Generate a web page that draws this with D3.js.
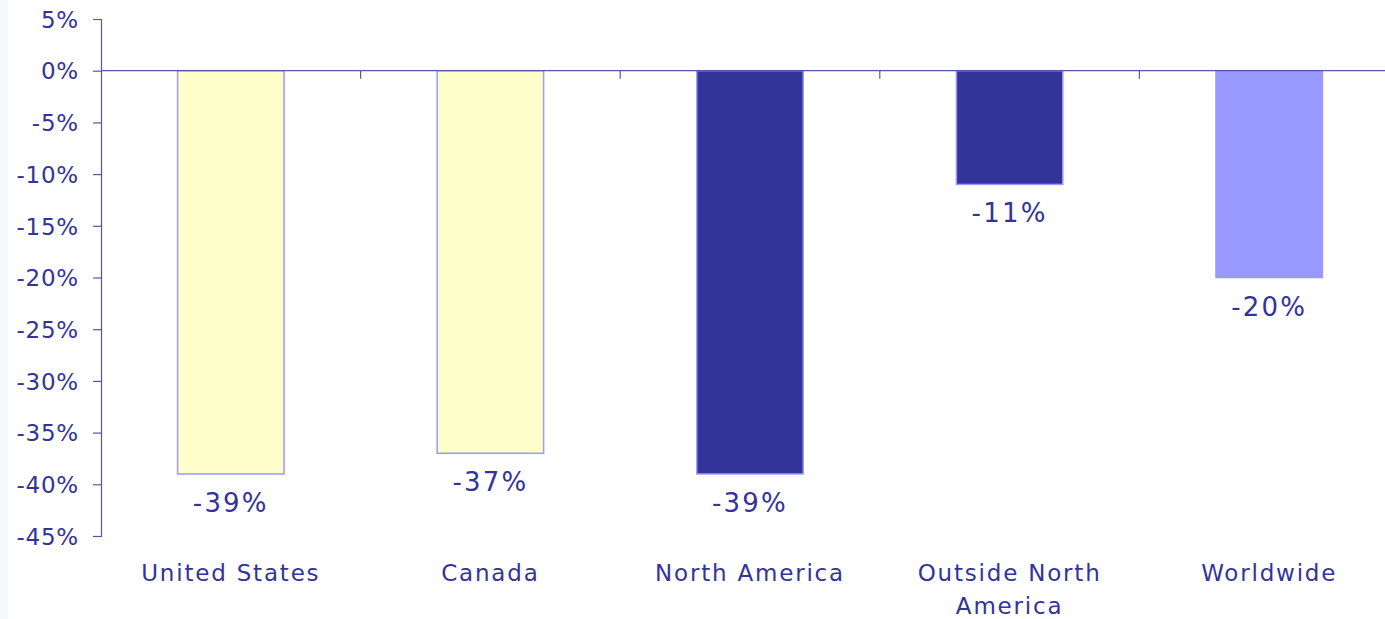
<!DOCTYPE html>
<html>
<head>
<meta charset="utf-8">
<script src="https://cdn.jsdelivr.net/npm/d3@7"></script>
<style>
  html, body { margin: 0; padding: 0; background: #ffffff; }
  svg { display: block; }
  text { font-family: "DejaVu Sans", Verdana, sans-serif; fill: #333399; }
</style>
</head>
<body>
<script>
// Percentage change by region
const categories = ["United States", "Canada", "North America", "Outside North America", "Worldwide"];
const labelLines = [["United States"], ["Canada"], ["North America"], ["Outside North", "America"], ["Worldwide"]];
const values = [-39, -37, -39, -11, -20];
const fills = ["#FFFFCC", "#FFFFCC", "#333399", "#333399", "#9999FF"];
const yTicks = [5, 0, -5, -10, -15, -20, -25, -30, -35, -40, -45];

const W = 1385, H = 619;
const margin = { left: 101, top: 19, right: -14, bottom: 83 };

const svg = d3.select("body").append("svg").attr("width", W).attr("height", H);

// faint strip along the left edge
svg.append("rect").attr("x", 0).attr("y", 0).attr("width", 8).attr("height", H).attr("fill", "#F7F9FF");

const x = d3.scaleBand()
  .domain(categories)
  .range([margin.left, W - margin.right])
  .paddingInner(0.59)
  .paddingOuter(0.295);

const y = d3.scaleLinear().domain([5, -45]).range([margin.top, H - margin.bottom]);

const axisColor = "#5555AA";

// Bars
svg.append("g").selectAll("rect")
  .data(values)
  .join("rect")
  .attr("x", (d, i) => x(categories[i]))
  .attr("y", y(0))
  .attr("width", x.bandwidth())
  .attr("height", d => y(d) - y(0))
  .attr("fill", (d, i) => fills[i])
  .attr("stroke", "#9999FF")
  .attr("stroke-width", 1.5);

// Y axis
const yAxis = d3.axisLeft(y).tickValues(yTicks).tickFormat(d => d + "%").tickSize(8).tickPadding(14);
const gy = svg.append("g").attr("transform", `translate(${margin.left},0)`).call(yAxis);
gy.select(".domain").attr("stroke", axisColor).attr("stroke-width", 1.2);
gy.selectAll(".tick line").attr("stroke", axisColor).attr("stroke-width", 1.2);
gy.selectAll(".tick text")
  .attr("font-size", 23)
  .attr("letter-spacing", 0.8)
  .attr("fill", "#333399")
  .style("font-family", "'DejaVu Sans', Verdana, sans-serif")
  .attr("dy", "0.36em");

// Zero line with category separators
const zero = svg.append("g");
zero.append("line")
  .attr("x1", margin.left).attr("x2", W)
  .attr("y1", y(0)).attr("y2", y(0))
  .attr("stroke", axisColor).attr("stroke-width", 1.2);
const step = x.step();
zero.selectAll("line.sep")
  .data(categories.slice(1))
  .join("line")
  .attr("class", "sep")
  .attr("x1", d => x(d) - step * x.paddingInner() / 2)
  .attr("x2", d => x(d) - step * x.paddingInner() / 2)
  .attr("y1", y(0)).attr("y2", y(0) + 8)
  .attr("stroke", axisColor).attr("stroke-width", 1.2);

// Value labels
svg.append("g").selectAll("text")
  .data(values)
  .join("text")
  .attr("x", (d, i) => x(categories[i]) + x.bandwidth() / 2)
  .attr("y", d => y(d) + 38)
  .attr("text-anchor", "middle")
  .attr("font-size", 26)
  .attr("letter-spacing", 2.2)
  .text(d => d + "%");

// Category labels
const cat = svg.append("g").selectAll("text")
  .data(labelLines)
  .join("text")
  .attr("x", (d, i) => x(categories[i]) + x.bandwidth() / 2)
  .attr("y", 581)
  .attr("text-anchor", "middle")
  .attr("font-size", 23)
  .attr("letter-spacing", 1.8);
cat.selectAll("tspan")
  .data(d => d)
  .join("tspan")
  .attr("x", function () { return d3.select(this.parentNode).attr("x"); })
  .attr("dy", (d, i) => i === 0 ? 0 : 33)
  .text(d => d);
</script>
</body>
</html>
